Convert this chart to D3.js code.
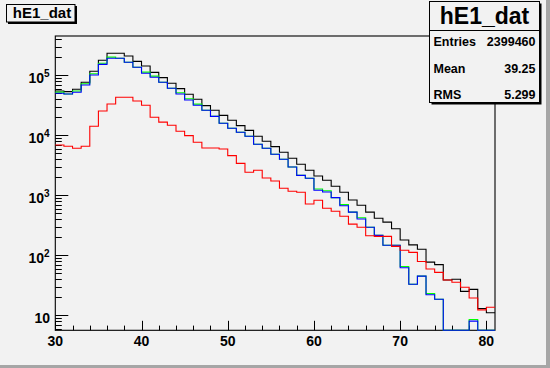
<!DOCTYPE html>
<html>
<head>
<meta charset="utf-8">
<script src="https://cdn.jsdelivr.net/npm/d3@7"></script>
<style>
  body { margin: 0; background: #f2f2f2; }
  text { font-family: "Liberation Sans", Arial, Helvetica, sans-serif; font-weight: bold; }
</style>
</head>
<body>
<div id="chart"></div>
<script>
// bin low edges (bin width 1)
var bins = [30,31,32,33,34,35,36,37,38,39,40,41,42,43,44,45,46,47,48,49,
            50,51,52,53,54,55,56,57,58,59,60,61,62,63,64,65,66,67,68,69,
            70,71,72,73,74,75,76,77,78,79,80];

// hE1_dat (black)
var blackVals = [54800,53400,58400,76400,116600,178000,232600,232600,210000,171000,
                 143000,112000,91500,73600,60000,48200,39800,31200,26100,21500,
                 17800,14500,12100,9620,7940,6480,5210,4140,3290,2610,
                 2100,1780,1413,1122,836,681,524,414,357,277,
                 180,149,126,77,70,38.7,39.8,25,27,13,11];

var greenVals = [52500,48900,54600,72300,106000,159000,201000,192000,165000,136000,
                 113000,97000,76400,60700,51200,40600,33100,26100,20700,15850,
                 13090,11220,9620,7080,6070,4820,3980,2970,2150,1920,
                 1270,1190,915,700,524,422,293,215,147,147,
                 65,33,45,23,18.5,0,0,0,8.5,0,0];

var blueVals = [50100,48900,52100,69000,101000,152000,192000,192000,165000,136000,
                108000,92600,76400,60700,48900,38800,31600,26100,20700,15850,
                13090,11220,9620,7080,6070,4820,3980,2970,2150,1920,
                1211,1137,915,668,524,403,293,215,147,147,
                62,33,45,22,18.5,0,0,0,8,0,0];

var redVals = [6900,6560,6070,6560,14130,25400,33300,43000,43000,37300,
               31600,19950,16600,14680,11660,9870,7640,6150,6150,5910,
               4580,3410,2420,2610,1945,1730,1309,1166,1122,717,
               826,607,541,447,331,293,212,207,207,141,
               121,112,79,59,52,38.7,35.5,29.3,19.4,12.3,13.6];

var xTicks = [30,40,50,60,70,80];
var yDecades = [10,100,1000,10000,100000];

var statsNames = ["Entries","Mean","RMS"];
var statsValues = ["2399460","39.25","5.299"];

var W = 550, H = 368;
var frame = {left: 55.3, right: 495, top: 36, bottom: 330.3};

var x = d3.scaleLinear()
  .domain([30, 81])
  .range([frame.left, frame.right]);
var y = d3.scaleLog()
  .domain([5.62, 452000])
  .range([frame.bottom, frame.top]);

var svg = d3.select("#chart")
  .append("svg")
    .attr("width", W)
    .attr("height", H);

// canvas + border
svg.append("rect").attr("width", W).attr("height", H).attr("fill", "#f2f2f2");
svg.append("rect").attr("x", W - 4).attr("y", 0).attr("width", 4).attr("height", H).attr("fill", "#a6a6a6");
svg.append("rect").attr("x", 0).attr("y", H - 3).attr("width", W).attr("height", 3).attr("fill", "#a6a6a6");

// frame
svg.append("rect")
  .attr("x", frame.left).attr("y", frame.top)
  .attr("width", frame.right - frame.left).attr("height", frame.bottom - frame.top)
  .attr("fill", "#f2f2f2")
  .attr("stroke", "#000")
  .attr("stroke-width", 1.1);

// y ticks (log: major at decades, minor 2..9)
var yMinor = [];
[1, 10, 100, 1000, 10000, 100000].forEach(function(dec) {
  for (var k = 1; k <= 9; k++) {
    var v = dec * k;
    if (v >= y.domain()[0] && v <= y.domain()[1]) yMinor.push(v);
  }
});
svg.append("g").selectAll("line")
  .data(yMinor)
  .enter()
  .append("line")
    .attr("x1", frame.left)
    .attr("x2", function(d) { return frame.left + (yDecades.indexOf(d) >= 0 ? 13 : 6.5); })
    .attr("y1", function(d) { return Math.round(y(d)) + 0.5; })
    .attr("y2", function(d) { return Math.round(y(d)) + 0.5; })
    .attr("stroke", "#000");

// y labels 10^n
svg.append("g").selectAll("text")
  .data(yDecades)
  .enter()
  .append("text")
    .attr("x", function(d) { return d === 10 ? 50 : 44; })
    .attr("y", function(d) { return y(d) + 8; })
    .attr("text-anchor", "end")
    .attr("font-size", 14)
    .text("10");
svg.append("g").selectAll("text")
  .data(yDecades.filter(function(d) { return d > 10; }))
  .enter()
  .append("text")
    .attr("x", 44)
    .attr("y", function(d) { return y(d) + 1.5; })
    .attr("font-size", 10)
    .text(function(d) { return Math.round(Math.log10(d)); });

// x ticks: minor every 2, major every 10
var xAll = [];
for (var i = 0; i < bins.length; i++) {
  if (bins[i] % 2 === 0) xAll.push(bins[i]);
}
svg.append("g").selectAll("line")
  .data(xAll)
  .enter()
  .append("line")
    .attr("x1", function(d) { return Math.round(x(d)) + 0.5; })
    .attr("x2", function(d) { return Math.round(x(d)) + 0.5; })
    .attr("y1", frame.bottom)
    .attr("y2", function(d) { return frame.bottom - (xTicks.indexOf(d) >= 0 ? 9.5 : 4.7); })
    .attr("stroke", "#000");
svg.append("g").selectAll("text")
  .data(xTicks)
  .enter()
  .append("text")
    .attr("x", function(d) { return x(d); })
    .attr("y", 345.5)
    .attr("text-anchor", "middle")
    .attr("font-size", 14)
    .text(function(d) { return d; });

// histograms as step lines
function stepPath(vals) {
  var lo = y.domain()[0];
  var p = "";
  for (var i = 0; i < bins.length; i++) {
    var yy = y(Math.max(vals[i], lo));
    var x0 = x(bins[i]), x1 = x(bins[i] + 1);
    p += (i === 0 ? "M" + x0 + "," + yy : "V" + yy) + "H" + x1;
  }
  return p;
}
[[blackVals, "#000000"], [greenVals, "#00ff00"], [blueVals, "#0000ff"], [redVals, "#ff0000"]]
  .forEach(function(h) {
    svg.append("path")
      .attr("d", stepPath(h[0]))
      .attr("fill", "none")
      .attr("stroke", h[1])
      .attr("stroke-width", 1.1);
  });

// title box
svg.append("rect").attr("x", 8).attr("y", 6).attr("width", 69).attr("height", 18).attr("fill", "#000");
svg.append("rect").attr("x", 6.5).attr("y", 4.5).attr("width", 68.5).attr("height", 17.5)
  .attr("fill", "#f2f2f2").attr("stroke", "#000");
svg.append("text")
  .attr("x", 42).attr("y", 18)
  .attr("text-anchor", "middle")
  .attr("font-size", 15)
  .text("hE1_dat");

// stats box
var sb = {x: 429.5, y: 1.5, w: 110, h: 101};
svg.append("rect").attr("x", sb.x + 2).attr("y", sb.y + 2).attr("width", sb.w).attr("height", sb.h).attr("fill", "#000");
svg.append("rect").attr("x", sb.x).attr("y", sb.y).attr("width", sb.w).attr("height", sb.h)
  .attr("fill", "#f2f2f2").attr("stroke", "#000");
svg.append("line")
  .attr("x1", sb.x).attr("x2", sb.x + sb.w)
  .attr("y1", 30.5).attr("y2", 30.5)
  .attr("stroke", "#000");
svg.append("text")
  .attr("x", sb.x + sb.w / 2).attr("y", 23.5)
  .attr("text-anchor", "middle")
  .attr("font-size", 23)
  .text("hE1_dat");
var rowY = [46, 73.3, 99];
svg.append("g").selectAll("text")
  .data(statsNames)
  .enter()
  .append("text")
    .attr("x", 433.5)
    .attr("y", function(d, i) { return rowY[i]; })
    .attr("font-size", 12.5)
    .text(function(d) { return d; });
svg.append("g").selectAll("text")
  .data(statsValues)
  .enter()
  .append("text")
    .attr("x", 535.5)
    .attr("y", function(d, i) { return rowY[i]; })
    .attr("text-anchor", "end")
    .attr("font-size", 12.5)
    .text(function(d) { return d; });
</script>
</body>
</html>
